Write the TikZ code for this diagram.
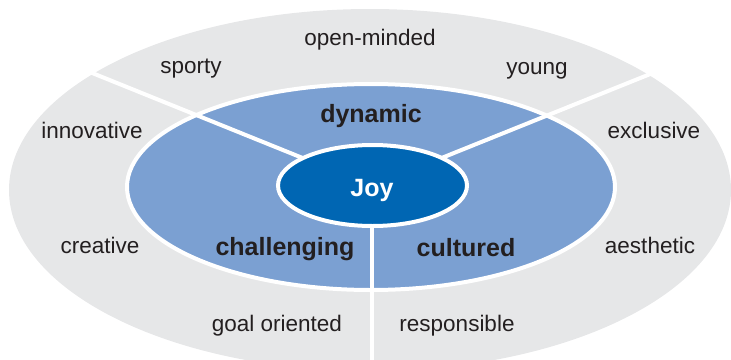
\documentclass[tikz,border=0pt]{standalone}
\usepackage{fontspec}
\setmainfont{Liberation Sans}
\definecolor{outergray}{HTML}{E6E7E8}
\definecolor{midblue}{HTML}{7BA0D2}
\definecolor{joyblue}{HTML}{0066B3}
\definecolor{txt}{HTML}{231F20}
\begin{document}
\begin{tikzpicture}[x=1pt,y=-1pt,
  lbl/.style={text=txt, font=\fontsize{22.5}{27}\selectfont, anchor=base, inner sep=0pt},
  boldlbl/.style={lbl, font=\fontsize{25}{30}\selectfont\bfseries},
  divider/.style={draw=white, line width=4pt},
  ring/.style={draw=white, line width=4pt}]
\useasboundingbox (0,0) rectangle (731,359);
\begin{scope}
\clip (0,0) rectangle (731,359);
\fill[outergray] (370,190) ellipse [x radius=361pt, y radius=181pt];
\filldraw[fill=midblue, ring] (371,187) ellipse [x radius=244pt, y radius=103pt];
\coordinate (c) at (372,186);
\coordinate (ul) at (60,60);
\coordinate (ur) at (685,60);
\coordinate (bt) at (372,370);
\draw[divider] (c) -- (ul);
\draw[divider] (c) -- (ur);
\draw[divider] (c) -- (bt);
\filldraw[fill=joyblue, ring] (372.5,185.5) ellipse [x radius=94.5pt, y radius=40.5pt];
\end{scope}
\node[boldlbl, text=white] (joy) at (372,196) {Joy};
\node[boldlbl] (dynamic) at (371,122) {dynamic};
\node[boldlbl] (challenging) at (285,255) {challenging};
\node[boldlbl] (cultured) at (466,256) {cultured};
\node[lbl] (openminded) at (370,45) {open-minded};
\node[lbl] (sporty) at (191,73) {sporty};
\node[lbl] (young) at (537,74) {young};
\node[lbl] (innovative) at (92,138) {innovative};
\node[lbl] (exclusive) at (654,138) {exclusive};
\node[lbl] (creative) at (100,253) {creative};
\node[lbl] (aesthetic) at (650,253) {aesthetic};
\node[lbl] (goal) at (277,331) {goal oriented};
\node[lbl] (responsible) at (457,331) {responsible};
\end{tikzpicture}
\end{document}
